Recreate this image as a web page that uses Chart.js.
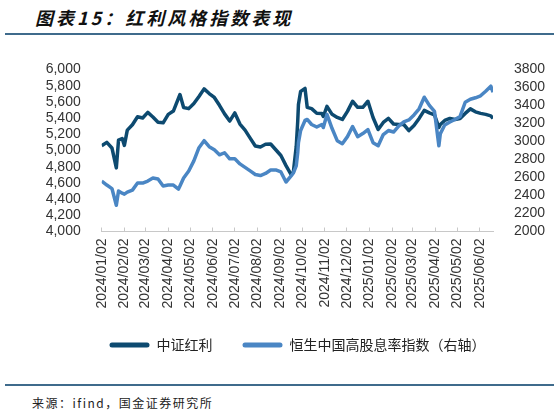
<!DOCTYPE html>
<html>
<head>
<meta charset="utf-8">
<script src="https://cdn.jsdelivr.net/npm/chart.js@4/dist/chart.umd.min.js"></script>
<style>
  body { margin: 0; width: 559px; height: 416px; background: #fff; position: relative; overflow: hidden; font-family: "Noto Sans CJK SC", sans-serif; }
  .title { position: absolute; left: 35px; top: 4px; font-size: 18px; font-weight: bold; font-style: italic; letter-spacing: 3px; color: #111; }
  .rule { position: absolute; left: 5px; width: 549px; height: 2px; background: #3f6b8c; }
  .src { position: absolute; left: 32px; top: 394px; font-size: 12px; letter-spacing: 1.5px; color: #222; }
  #wrap { position: absolute; left: 0; top: 40px; width: 559px; height: 330px; }
</style>
</head>
<body>
<div class="title">图表15：红利风格指数表现</div>
<div class="rule" style="top:33px"></div>
<div id="wrap"><canvas id="c"></canvas></div>
<div class="rule" style="top:384px"></div>
<div class="src">来源：ifind，国金证券研究所</div>
<script>
// sample dates (roughly weekly, extra ones at sharp moves)
const dates = [
  '2024-01-02','2024-01-09','2024-01-16','2024-01-22','2024-01-25','2024-01-30','2024-02-02','2024-02-06',
  '2024-02-13','2024-02-20','2024-02-27','2024-03-05','2024-03-12','2024-03-19','2024-03-26','2024-04-02',
  '2024-04-09','2024-04-16','2024-04-18','2024-04-23','2024-04-30','2024-05-07','2024-05-14','2024-05-21',
  '2024-05-28','2024-06-04','2024-06-11','2024-06-18','2024-06-25','2024-07-02','2024-07-09','2024-07-16',
  '2024-07-23','2024-07-30','2024-08-06','2024-08-13','2024-08-20','2024-08-27','2024-09-03','2024-09-10',
  '2024-09-17','2024-09-20','2024-09-24','2024-09-26','2024-09-27','2024-09-30','2024-10-06','2024-10-09',
  '2024-10-15','2024-10-22','2024-10-29','2024-10-31','2024-11-05','2024-11-12','2024-11-19','2024-11-26',
  '2024-12-03','2024-12-10','2024-12-17','2024-12-24','2024-12-31','2025-01-07','2025-01-14','2025-01-21',
  '2025-01-28','2025-02-04','2025-02-11','2025-02-18','2025-02-25','2025-03-04','2025-03-11','2025-03-18',
  '2025-03-25','2025-04-01','2025-04-07','2025-04-09','2025-04-15','2025-04-22','2025-04-29','2025-05-06',
  '2025-05-13','2025-05-20','2025-05-27','2025-06-03','2025-06-10','2025-06-17','2025-06-20'
];

// 中证红利 (left axis)
const csiDividend = [
  5059, 5100, 5031, 4785, 5128, 5148, 5063, 5252,
  5318, 5417, 5402, 5470, 5414, 5350, 5342, 5446,
  5487, 5647, 5691, 5530, 5517, 5580, 5667, 5761,
  5703, 5655, 5558, 5452, 5363, 5464, 5326, 5252,
  5153, 5056, 5044, 5077, 5080, 5009, 4938, 4813,
  4703, 4728, 5052, 5358, 5568, 5730, 5766, 5533,
  5517, 5460, 5458, 5420, 5545, 5446, 5408, 5383,
  5483, 5608, 5533, 5533, 5608, 5408, 5259, 5346,
  5396, 5327, 5321, 5321, 5246, 5308, 5396, 5495,
  5464, 5439, 5284, 5321, 5371, 5396, 5383, 5396,
  5458, 5514, 5477, 5458, 5446, 5427, 5396
];

// 恒生中国高股息率指数 (right axis)
const hsHighDiv = [
  2561, 2516, 2477, 2292, 2449, 2426, 2415, 2437,
  2460, 2538, 2538, 2561, 2594, 2583, 2505, 2516,
  2516, 2471, 2505, 2594, 2673, 2785, 2931, 3009,
  2942, 2908, 2852, 2875, 2807, 2807, 2751, 2712,
  2673, 2634, 2622, 2645, 2684, 2684, 2662, 2550,
  2617, 2650, 2729, 2875, 2987, 3122, 3234, 3245,
  3189, 3161, 3189, 3155, 3301, 3144, 3009, 2976,
  3054, 3166, 3054, 3088, 3133, 2987, 2953, 3077,
  3122, 3105, 3172, 3217, 3239, 3295, 3363, 3492,
  3402, 3335, 2953, 3088, 3183, 3217, 3245, 3279,
  3436, 3469, 3486, 3508, 3559, 3615, 3548
];

const tickLabels = [
  '2024/01/02','2024/02/02','2024/03/02','2024/04/02','2024/05/02','2024/06/02',
  '2024/07/02','2024/08/02','2024/09/02','2024/10/02','2024/11/02','2024/12/02',
  '2025/01/02','2025/02/02','2025/03/02','2025/04/02','2025/05/02','2025/06/02'
];

const seriesNames = ['中证红利', '恒生中国高股息率指数（右轴）'];
const colors = ['#0d4a70', '#4a86c4'];

const t0 = Date.parse(dates[0]);
const dayOf = s => Math.round((Date.parse(s.replace(/\//g, '-')) - t0) / 86400000);
const tickDays = tickLabels.map(dayOf);

const toPoints = vals => vals.map((v, i) => ({ x: dayOf(dates[i]), y: v }));

const tickFont = { family: '"Liberation Sans", Arial, sans-serif', size: 14 };

new Chart(document.getElementById('c'), {
  type: 'line',
  data: {
    datasets: [
      {
        label: seriesNames[0],
        data: toPoints(csiDividend),
        yAxisID: 'y',
        borderColor: colors[0],
        backgroundColor: colors[0],
        borderWidth: 3.5,
        pointRadius: 0,
        borderJoinStyle: 'round',
        order: 1
      },
      {
        label: seriesNames[1],
        data: toPoints(hsHighDiv),
        yAxisID: 'y1',
        borderColor: colors[1],
        backgroundColor: colors[1],
        borderWidth: 3.5,
        pointRadius: 0,
        borderJoinStyle: 'round',
        order: 0
      }
    ]
  },
  options: {
    responsive: true,
    maintainAspectRatio: false,
    animation: false,
    layout: { padding: { left: 36, right: 0, top: 29.5, bottom: 8 } },
    plugins: {
      tooltip: { enabled: false },
      legend: {
        position: 'bottom',
        labels: {
          boxWidth: 40,
          boxHeight: 5,
          useBorderRadius: true,
          borderRadius: 2.5,
          padding: 30,
          color: '#222',
          font: { family: '"Noto Sans CJK SC", sans-serif', size: 14 },
          sort: (a, b) => a.datasetIndex - b.datasetIndex,
          generateLabels: chart =>
            Chart.defaults.plugins.legend.labels.generateLabels(chart)
              .map(l => ({ ...l, lineWidth: 0, fillStyle: l.strokeStyle }))
        }
      }
    },
    scales: {
      x: {
        type: 'linear',
        min: 0,
        max: dayOf(dates[dates.length - 1]),
        afterBuildTicks: s => { s.ticks = tickDays.map(v => ({ value: v })); },
        afterFit: s => { s.height = 76.5; },
        grid: { drawOnChartArea: false, color: '#c8c8c8', tickLength: -4 },
        border: { color: '#c8c8c8', width: 1 },
        ticks: {
          autoSkip: false,
          minRotation: 90,
          maxRotation: 90,
          padding: 11,
          color: '#333',
          font: tickFont,
          callback: v => tickLabels[tickDays.indexOf(v)]
        }
      },
      y: {
        position: 'left',
        min: 4000,
        max: 6000,
        afterFit: s => { s.width = 65.7; },
        grid: { display: false },
        border: { display: false },
        ticks: {
          stepSize: 200,
          autoSkip: false,
          padding: 13,
          color: '#333',
          font: tickFont,
          callback: v => v.toLocaleString('en-US')
        }
      },
      y1: {
        position: 'right',
        min: 2000,
        max: 3800,
        afterFit: s => { s.width = 66; },
        grid: { display: false },
        border: { display: false },
        ticks: {
          stepSize: 200,
          autoSkip: false,
          padding: 13,
          color: '#333',
          font: tickFont,
          callback: v => String(v)
        }
      }
    }
  }
});
</script>
</body>
</html>
